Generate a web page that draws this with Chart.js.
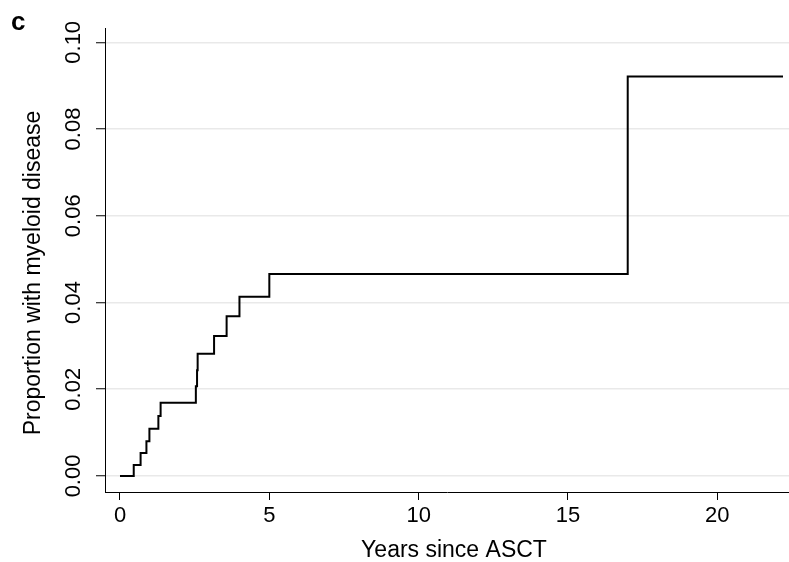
<!DOCTYPE html>
<html>
<head>
<meta charset="utf-8">
<script src="https://cdn.jsdelivr.net/npm/chart.js@4/dist/chart.umd.min.js"></script>
<style>
html,body{margin:0;padding:0;background:#fff;}
#c{display:block;}
</style>
</head>
<body>
<canvas id="c" width="789" height="562"></canvas>
<script>
// Cumulative incidence of myeloid disease (step function)
const years = [0, 0.46, 0.69, 0.885, 0.985, 1.285, 1.36, 2.54, 2.58, 2.6, 3.15, 3.57, 4.0, 5.0, 17.0, 22.2];
const proportion = [0, 0.0025, 0.0053, 0.0080, 0.0109, 0.0138, 0.0169, 0.0207, 0.0244, 0.0282, 0.0323, 0.0368, 0.0413, 0.0466, 0.0921, 0.0921];
const xTicks = [0, 5, 10, 15, 20];
const yTicks = [0, 0.02, 0.04, 0.06, 0.08, 0.10];
const yTickLabels = ["0.00", "0.02", "0.04", "0.06", "0.08", "0.10"];
const xTitle = "Years since ASCT";
const yTitle = "Proportion with myeloid disease";
const panelLabel = "c";

const FONT = "'Liberation Sans', Arial, sans-serif";

const textPlugin = {
  id: 'texts',
  afterDraw(chart) {
    const ctx = chart.ctx;
    const ys = chart.scales.y;
    ctx.save();
    ctx.fillStyle = '#000';
    // y tick labels, rotated
    ctx.font = "22px " + FONT;
    ctx.textAlign = 'center';
    ctx.textBaseline = 'alphabetic';
    yTicks.forEach((v, i) => {
      const py = ys.getPixelForValue(v);
      ctx.save();
      ctx.translate(80, py);
      ctx.rotate(-Math.PI / 2);
      ctx.fillText(yTickLabels[i], 0, 0);
      ctx.restore();
    });
    // y title
    ctx.font = "23px " + FONT;
    ctx.save();
    ctx.translate(40, 273);
    ctx.rotate(-Math.PI / 2);
    ctx.fillText(yTitle, 0, 0);
    ctx.restore();
    // x title
    ctx.fillText(xTitle, 454, 557);
    // panel label
    ctx.font = "bold 26px " + FONT;
    ctx.textAlign = 'left';
    ctx.fillText(panelLabel, 11, 30);
    ctx.restore();
  }
};

new Chart(document.getElementById('c'), {
  type: 'line',
  data: {
    datasets: [{
      data: years.map((t, i) => ({x: t, y: proportion[i]})),
      stepped: 'before',
      borderColor: '#000',
      borderWidth: 2,
      pointRadius: 0,
      fill: false
    }]
  },
  options: {
    responsive: false,
    animation: false,
    devicePixelRatio: 1,
    layout: {padding: {top: 28, right: 0, left: 0, bottom: 0}},
    plugins: {legend: {display: false}, tooltip: {enabled: false}},
    scales: {
      x: {
        type: 'linear',
        min: -0.502,
        max: 22.4,
        afterBuildTicks: s => { s.ticks = xTicks.map(v => ({value: v})); },
        afterFit: s => { s.height = 70; },
        grid: {drawOnChartArea: false, drawTicks: true, tickLength: 8, tickColor: '#000', tickWidth: 1},
        border: {color: '#000', width: 1},
        ticks: {
          color: '#000',
          font: {family: FONT, size: 22},
          padding: 3,
          maxRotation: 0,
          autoSkip: false
        }
      },
      y: {
        type: 'linear',
        min: -0.0037,
        max: 0.1033,
        afterBuildTicks: s => { s.ticks = yTicks.map(v => ({value: v})); },
        afterFit: s => { s.width = 105; },
        grid: {color: '#e9e9e9', lineWidth: 1.5, drawTicks: true, tickLength: 9, tickColor: '#000', tickWidth: 1},
        border: {color: '#000', width: 1},
        ticks: {display: false}
      }
    }
  },
  plugins: [textPlugin]
});
</script>
</body>
</html>
